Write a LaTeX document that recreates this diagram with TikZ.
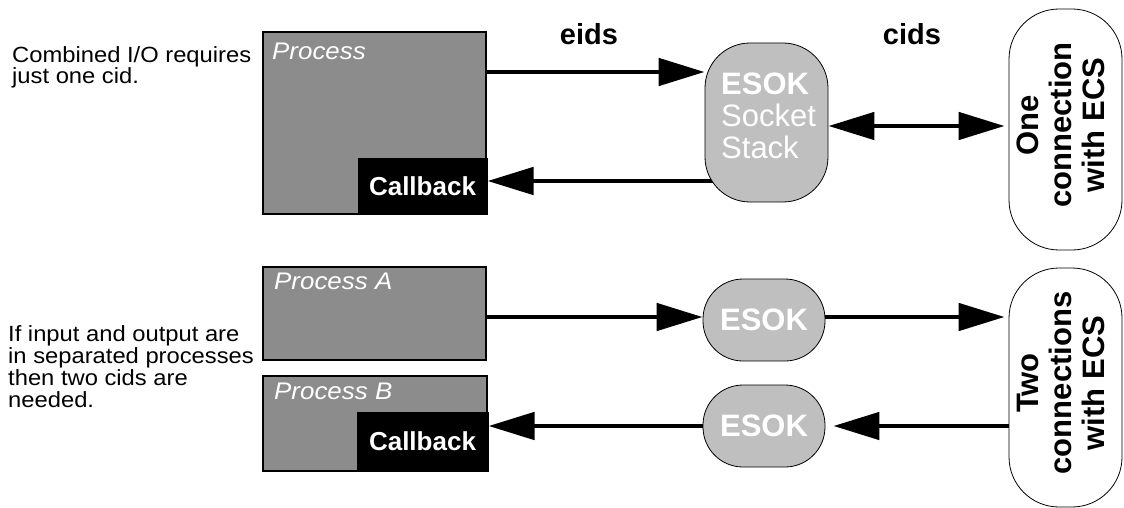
\documentclass[tikz,border=0pt]{standalone}
\usepackage{fontspec}
\setmainfont{Liberation Sans}
\newfontfamily\widefont[FakeStretch=1.08]{Liberation Sans}
\usetikzlibrary{arrows.meta}
\pgfdeclarelayer{bg}
\pgfsetlayers{bg,main}
\definecolor{procgray}{RGB}{140,140,140}
\definecolor{esokgray}{RGB}{191,191,191}
\begin{document}
\begin{tikzpicture}[x=1pt,y=-1pt,
  proc/.style={draw=black, line width=2pt, fill=procgray, inner sep=0pt},
  cbox/.style={fill=black, draw=black, line width=1pt, text=white, inner sep=0pt,
    font=\bfseries\fontsize{26}{28}\selectfont},
  plabel/.style={text=white, inner sep=0pt, font=\widefont\itshape\fontsize{24}{26}\selectfont},
  esokbox/.style={draw=black, line width=0.8pt, fill=esokgray, inner sep=0pt},
  esoktext/.style={text=white, font=\bfseries\fontsize{31}{33}\selectfont},
  ecs/.style={draw=black, line width=0.8pt, fill=white, rounded corners=50pt, inner sep=0pt, minimum width=113pt},
  rot/.style={rotate=90, align=center, inner sep=0pt, font=\bfseries\fontsize{31}{33}\selectfont},
  note/.style={align=left, inner sep=0pt, font=\widefont\fontsize{22}{21.7}\selectfont},
  hdr/.style={inner sep=0pt, font=\bfseries\fontsize{29}{31}\selectfont},
  arr/.style={line width=4.8pt, -{Triangle[length=46pt,width=27pt]}},
  darr/.style={line width=4.8pt, {Triangle[length=46pt,width=27pt]}-{Triangle[length=46pt,width=27pt]}}
]
\useasboundingbox (0,0) rectangle (1124,508);

% notes (base anchor = baseline of last line)
\node[note, anchor=base west] (n1) at (12,84) {Combined I/O requires\\just one cid.};
\node[note, anchor=base west] (n2) at (8,407) {If input and output are\\in separated processes\\then two cids are\\needed.};

% headers
\node[hdr, anchor=base] (eids) at (589,45) {eids};
\node[hdr, anchor=base] (cids) at (912,45) {cids};

% top process
\node[proc, minimum width=223pt, minimum height=182pt] (proc) at (374.5,123) {};
\node[cbox, minimum width=129pt, minimum height=56pt] (cb1) at (422.5,186) {Callback};
\node[plabel, anchor=base west] (plab) at (272,60) {Process};

% process A and B
\node[proc, minimum width=223pt, minimum height=93pt] (procA) at (374.5,313.5) {};
\node[plabel, anchor=base west] (plabA) at (274,289) {Process A};
\node[proc, minimum width=224pt, minimum height=95pt] (procB) at (375,423.5) {};
\node[cbox, minimum width=131pt, minimum height=59pt] (cbB) at (422.5,441.5) {Callback};
\node[plabel, anchor=base west] (plabB) at (274,399) {Process B};

% ESOK socket stack
\node[esokbox, minimum width=123pt, minimum height=159pt, rounded corners=45pt] (esok) at (766.5,122.5) {};
\node[anchor=base west, align=left, text=white, inner sep=0pt, font=\fontsize{31}{32}\selectfont] (esoktxt) at (721,158) {\textbf{ESOK}\\Socket\\Stack};

% ESOK A/B
\node[esokbox, esoktext, minimum width=122pt, minimum height=82pt, rounded corners=40pt] (esokA) at (764,320) {ESOK};
\node[esokbox, esoktext, minimum width=122pt, minimum height=82pt, rounded corners=40pt] (esokB) at (764,426) {ESOK};

% ECS boxes
\node[ecs, minimum height=241pt] (one) at (1065.5,129.5) {};
\node[rot] (onetxt) at (1061,125) {One\\connection\\with ECS};
\node[ecs, minimum height=239pt] (two) at (1065.5,387.5) {};
\node[rot] (twotxt) at (1061,383) {Two\\connections\\with ECS};

\coordinate (ya) at (0,72);
\coordinate (yb) at (0,181);
\coordinate (yc) at (0,126);
\coordinate (yd) at (0,317);
\coordinate (ye) at (0,426);

\begin{pgfonlayer}{bg}
\draw[arr] (proc.east |- ya) -- (esok.west |- ya);
\draw[arr] (esok.center |- yb) -- (cb1.east |- yb);
\draw[darr, shorten >=4pt] (esok.east |- yc) -- (one.west |- yc);
\draw[arr] (procA.east |- yd) -- (esokA.west |- yd);
\draw[arr, shorten >=4pt] (esokA.east |- yd) -- (two.west |- yd);
\draw[arr, shorten >=8pt] (two.west |- ye) -- (esokB.east |- ye);
\draw[arr] (esokB.west |- ye) -- (cbB.east |- ye);
\end{pgfonlayer}
\end{tikzpicture}
\end{document}
